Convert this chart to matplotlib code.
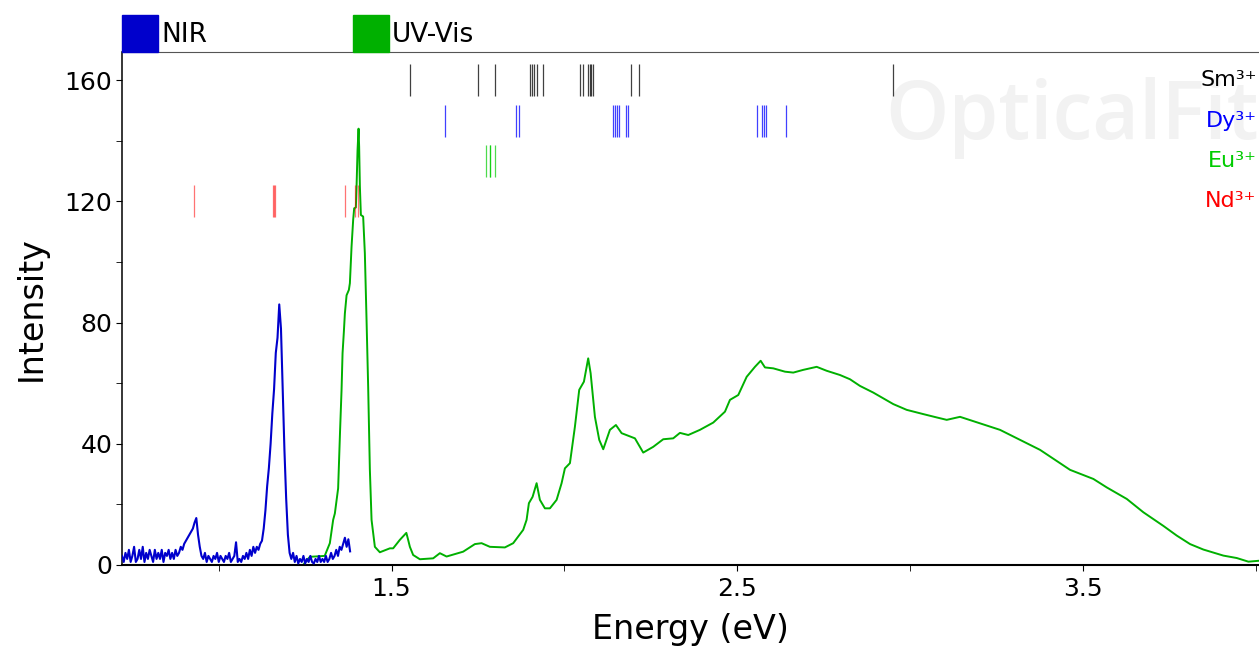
import numpy as np
import matplotlib.pyplot as plt
from matplotlib.patches import Rectangle
from matplotlib.ticker import MultipleLocator, FixedLocator

# NIR spectrum, sampled every 0.005 eV from 0.72 eV
nir_start = 0.72
nir_step = 0.005
nir_int = [3, 1, 4, 2, 5, 1, 3, 6, 1, 2, 5, 2, 6, 1, 4, 2, 5, 3, 1, 5,
           2, 4, 2, 5, 1, 4, 3, 5, 2, 4, 2, 5, 3, 4, 6, 5, 7, 8, 9, 10,
           11, 12, 14, 15.5, 10, 6, 3, 2, 4, 1, 3, 2, 1, 3, 2, 4, 1, 3, 2, 1,
           3, 2, 4, 1, 2, 3, 7.5, 1, 2, 1, 3, 2, 4, 2, 5, 3, 6, 4, 6, 5,
           7, 8, 12, 18, 26, 32, 40, 50, 58, 70, 75, 86, 78, 58, 38, 22, 10, 4, 2, 4,
           1, 3, 0.5, 2, 1, 3, 0.5, 2, 1, 3, 1, 0.5, 2, 1, 3, 1, 2, 1, 3, 1,
           2, 4, 2, 3, 5, 3, 6, 5, 7, 9, 6, 8.5, 4.5]

# UV-Vis spectrum
uv_e = [1.244, 1.2635, 1.3065, 1.3214, 1.331, 1.3359, 1.3454, 1.3509, 1.3553, 1.3582,
        1.362, 1.3649, 1.3698, 1.3765, 1.3794, 1.3842, 1.3889, 1.3918, 1.3967, 1.3987,
        1.4016, 1.4045, 1.4062, 1.4083, 1.4112, 1.4178, 1.4227, 1.4276, 1.4323, 1.4372,
        1.4421, 1.4517, 1.4661, 1.4951, 1.5046, 1.524, 1.5428, 1.548, 1.553, 1.5625,
        1.5819, 1.6204, 1.6398, 1.6592, 1.7072, 1.7411, 1.7605, 1.7845, 1.8279, 1.852,
        1.8809, 1.8907, 1.8974, 1.9081, 1.9197, 1.9292, 1.9437, 1.9582, 1.9776, 1.992,
        2.0016, 2.0161, 2.0305, 2.043, 2.0566, 2.069, 2.076, 2.0884, 2.1009, 2.1125,
        2.1318, 2.1492, 2.1657, 2.2042, 2.2282, 2.2572, 2.2861, 2.315, 2.3344, 2.3585,
        2.3923, 2.4308, 2.4647, 2.4792, 2.5032, 2.5275, 2.5515, 2.568, 2.5805, 2.6045,
        2.6384, 2.6624, 2.6913, 2.7301, 2.759, 2.7976, 2.8265, 2.8554, 2.8939, 2.9518,
        2.9906, 3.0386, 3.0774, 3.1064, 3.1449, 3.2606, 3.3764, 3.4633, 3.5307, 3.5695,
        3.6274, 3.6754, 3.7333, 3.7721, 3.8106, 3.849, 3.9069, 3.9457, 3.9793, 4.0103]
uv_int = [0, 2.7, 3.0, 7.2, 14.9, 17, 25.3, 44, 57.8, 69.9,
          77, 83, 89, 90.8, 93, 105, 113.9, 117.7, 118, 124.9,
          137, 144, 138, 125, 115.5, 115, 102.9, 80.9, 58.8, 31.5,
          14.9, 6, 4.2, 5.5, 5.5, 8.3, 10.6, 8.3, 6, 3.3,
          1.9, 2.2, 3.9, 2.8, 4.4, 6.9, 7.2, 6, 5.8, 7.2,
          11.6, 14.9, 20.4, 22.5, 27, 21.5, 18.7, 18.7, 21.5, 27,
          31.9, 33.6, 45.6, 57.8, 60.5, 68.2, 63.3, 48.9, 41.3, 38.2,
          44.6, 46.2, 43.5, 41.8, 37.1, 39, 41.5, 41.8, 43.6, 42.9,
          44.6, 47, 50.6, 54.5, 56.1, 62.1, 65.4, 67.4, 65.2, 64.9,
          63.8, 63.5, 64.4, 65.4, 64.1, 62.7, 61.3, 59.1, 56.9, 53.1,
          51.2, 49.8, 48.7, 47.9, 48.9, 44.6, 38, 31.4, 28.4, 25.6,
          21.8, 17.4, 12.9, 9.7, 6.9, 5.1, 3.1, 2.3, 1.1, 1.4]

# transition lines (eV)
sm_lines = [1.552, 1.749, 1.798, 1.900, 1.906, 1.913, 1.921, 1.938, 2.044, 2.055,
            2.068, 2.073, 2.076, 2.083, 2.193, 2.215, 2.952]
dy_lines = [1.655, 1.860, 1.870, 2.141, 2.146, 2.151, 2.158, 2.177, 2.184,
            2.556, 2.573, 2.578, 2.583, 2.641]
eu_lines = [1.772, 1.784, 1.785, 1.798]
nd_lines = [0.927, 1.156, 1.159, 1.162, 1.366, 1.393, 1.403]

ions = ['Sm³⁺', 'Dy³⁺', 'Eu³⁺', 'Nd³⁺']
ion_lines = [sm_lines, dy_lines, eu_lines, nd_lines]
ion_colors = ['black', '#0000ff', '#00cc00', '#ff0000']
ion_alpha = [0.75, 0.75, 0.7, 0.55]
ion_y = [160, 146.5, 133.3, 120]

nir_e = nir_start + nir_step * np.arange(len(nir_int))

plt.rcParams['font.family'] = ['DejaVu Sans']
fig = plt.figure(figsize=(12.59, 6.5), dpi=100)
ax = fig.add_axes([122 / 1259, 85 / 650, 1 - 122 / 1259, (565 - 52) / 650])

# watermark (x in axes fraction, y in data), cut by the right edge as in the original
ax.text(0.671, 147.5, 'OpticalFit', transform=ax.get_yaxis_transform(),
        fontsize=58, fontweight='semibold', family='Open Sans', color='#f2f2f2',
        va='center', ha='left', zorder=0, clip_on=True)

ax.plot(nir_e, nir_int, color='#0000cc', lw=1.5, zorder=3)
ax.plot(uv_e, uv_int, color='#00b000', lw=1.4, zorder=2)

for name, lines, col, al, yc in zip(ions, ion_lines, ion_colors, ion_alpha, ion_y):
    ax.vlines(lines, yc - 5.3, yc + 5.3, colors=col, lw=0.9, alpha=al, zorder=4)
    ax.text(0.998, yc, name, transform=ax.get_yaxis_transform(), color=col,
            fontsize=16, ha='right', va='center', zorder=5)

ax.set_xlim(0.72, 4.01)
ax.set_ylim(0, 169.3)
ax.xaxis.set_major_locator(FixedLocator([1.5, 2.5, 3.5]))
ax.xaxis.set_minor_locator(FixedLocator([1.0, 2.0, 3.0, 4.0]))
ax.yaxis.set_major_locator(MultipleLocator(40))
ax.yaxis.set_minor_locator(MultipleLocator(20))
ax.tick_params(axis='both', which='both', direction='out', labelsize=18)
ax.tick_params(axis='x', which='both', length=4, pad=5)
ax.tick_params(axis='y', which='major', length=4, pad=3)
ax.tick_params(axis='y', which='minor', length=4)
ax.spines['right'].set_visible(False)
ax.spines['top'].set_color('#555555')
ax.spines['left'].set_linewidth(1.1)
ax.spines['bottom'].set_linewidth(1.5)

ax.set_xlabel('Energy (eV)', fontsize=24, labelpad=8)
ax.set_ylabel('Intensity', fontsize=24, labelpad=12)

# legend above the plot
leg = [('NIR', '#0000cc', 122), ('UV-Vis', '#00b000', 353)]
for lab, col, x0 in leg:
    fig.add_artist(Rectangle((x0 / 1259, 1 - 52 / 650), 36 / 1259, 37 / 650,
                             transform=fig.transFigure, color=col))
    fig.text((x0 + 39) / 1259, 1 - 35 / 650, lab, fontsize=19, va='center', ha='left')

fig.savefig('out.png', dpi=100)
